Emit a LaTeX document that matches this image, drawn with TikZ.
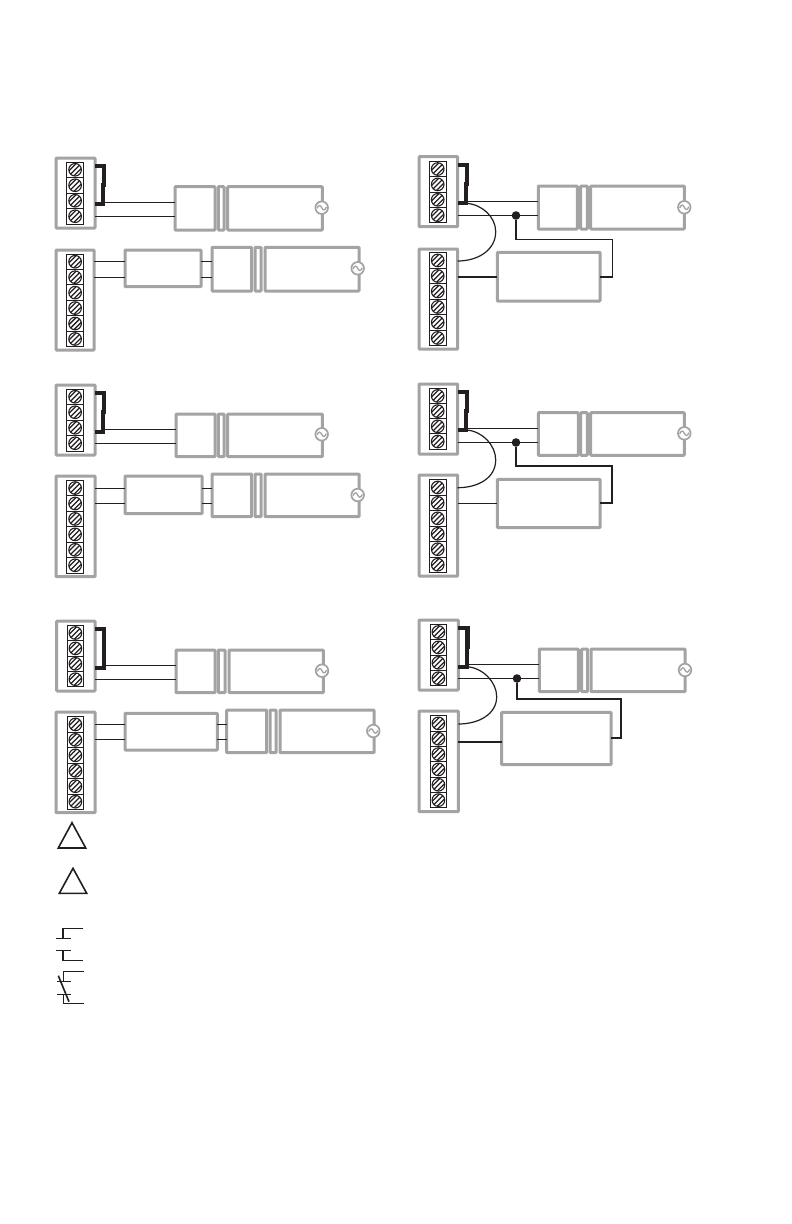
\documentclass[tikz,border=0pt]{standalone}
\definecolor{gbar}{HTML}{A3A3A3}
\definecolor{inkk}{HTML}{231F20}
\tikzset{
  gbox/.style={draw=gbar,line width=3pt,rounded corners=0.8pt,inner sep=0pt,outer sep=0pt,fill=none},
  cellbox/.style={draw=inkk,line width=0.9pt,inner sep=0pt,outer sep=0pt},
  screw/.style={circle,draw=inkk,line width=1.1pt,inner sep=0pt,outer sep=0pt,minimum size=12.6pt,
    path picture={\foreach \d in {-2.5,0,2.5}{
      \draw[inkk,line width=1.25pt] ([xshift={(\d-9)*1pt},yshift={(-\d-9)*1pt}]path picture bounding box.center)
        -- ([xshift={(\d+9)*1pt},yshift={(-\d+9)*1pt}]path picture bounding box.center);}}},
  wire/.style={draw=inkk,line width=1.2pt},
  wirethick/.style={draw=inkk,line width=2pt},
  jumper/.style={draw=inkk,line width=4.2pt,line join=miter},
  junction/.style={circle,fill=inkk,inner sep=0pt,minimum size=8.6pt},
  acring/.style={circle,draw=gbar,fill=white,line width=1.7pt,inner sep=0pt,minimum size=12.6pt},
  sym/.style={draw=inkk,line width=1.6pt,line join=miter}
}
% name, x1, y1, x2, y2
\newcommand{\GB}[5]{%
  \pgfmathsetmacro\gw{#4-#2}\pgfmathsetmacro\gh{#5-#3}%
  \pgfmathsetmacro\gx{(#2+#4)/2}\pgfmathsetmacro\gy{(#3+#5)/2}%
  \node[gbox,minimum width=\gw pt,minimum height=\gh pt] (#1) at (\gx,\gy) {};}
% AC symbol: name, x, y
\newcommand{\ACS}[3]{%
  \node[acring] (#1) at (#2,#3) {};
  \draw[gbar,line width=1.3pt] ([xshift=-4.6pt,yshift=-0.6pt]#1.center) .. controls ([xshift=-3pt,yshift=3.4pt]#1.center) and ([xshift=-1.2pt,yshift=2.6pt]#1.center) .. (#1.center) .. controls ([xshift=1.2pt,yshift=-2.6pt]#1.center) and ([xshift=3pt,yshift=-3.4pt]#1.center) .. ([xshift=4.6pt,yshift=0.6pt]#1.center);}
% terminal strip: name, x1, y1, x2, y2, stripLeft, stripTop, cells, cellHeight
\newcommand{\TS}[9]{%
  \GB{#1}{#2}{#3}{#4}{#5}%
  \foreach \i in {1,...,#8}{%
    \pgfmathsetmacro\cx{#6+8.4}\pgfmathsetmacro\cy{#7+(\i-0.5)*#9}%
    \node[cellbox,minimum width=16.8pt,minimum height=#9 pt] (#1-c\i) at (\cx,\cy) {};
    \node[screw] (#1-s\i) at (\cx,\cy) {};
  }}
% jumper: terminal name, coordinate prefix, x, y-top, y-bottom
\newcommand{\JP}[5]{%
  \pgfmathsetmacro\jm{(#4+#5)/2}\pgfmathsetmacro\jl{#3-0.6}%
  \pgfmathsetmacro\jma{\jm+2}\pgfmathsetmacro\jmb{\jm-2}%
  \coordinate (#21) at (#3,#4); \coordinate (#2m) at (#3,\jma);
  \coordinate (#2n) at (\jl,\jmb); \coordinate (#22) at (\jl,#5);
  \draw[jumper] (#1.east |- #21) -- (#21) -- (#2m);
  \draw[jumper] (#2n) -- (#22) -- (#1.east |- #22);}
\begin{document}
\begin{tikzpicture}[x=1pt,y=-1pt]
\useasboundingbox (0,0) rectangle (792,1224);
\fill[white] (0,0) rectangle (792,1224);

%% ---------- left column, row 1
\TS{at}{56}{158}{95}{228}{66.7}{162}{4}{15.5}
\GB{ab}{175}{186.7}{215}{230}
\GB{ac}{218.3}{186.7}{224}{230}
\GB{ad}{227.7}{186.7}{322.3}{230}
\ACS{ae}{321.7}{207.7}
\TS{bt}{56}{250}{94}{350}{66.7}{254}{6}{15.45}
\GB{bm}{125}{250}{201}{286.7}
\GB{bb}{212}{247.3}{251.7}{291}
\GB{bc}{255}{247.3}{261}{291}
\GB{bd}{265}{247.3}{359}{291}
\ACS{be}{357.7}{268.3}
\JP{at}{aj}{103.6}{166}{204}
\coordinate (aw1) at (0,202.5); \coordinate (aw2) at (0,216.5);
\coordinate (bw1) at (0,261.5); \coordinate (bw2) at (0,277.5);
\draw[wire] (aj2 |- aw1) -- (ab.west |- aw1);
\draw[wire] (at.east |- aw2) -- (ab.west |- aw2);
\draw[wire] (bt.east |- bw1) -- (bm.west |- bw1);
\draw[wire] (bt.east |- bw2) -- (bm.west |- bw2);
\draw[wire] (bm.east |- bw1) -- (bb.west |- bw1);
\draw[wire] (bm.east |- bw2) -- (bb.west |- bw2);

%% ---------- left column, row 2
\TS{ct}{56}{385}{95}{455}{66.7}{389}{4}{15.5}
\GB{cb}{176}{414}{215}{456.7}
\GB{cc}{218.3}{414}{224}{456.7}
\GB{cd}{227.7}{414}{322.3}{456.7}
\ACS{ce}{321.7}{434.3}
\TS{dt}{56}{476}{95}{576.7}{66.7}{480.3}{6}{15.45}
\GB{dm}{125}{476}{202}{513.7}
\GB{db}{212}{474}{251.7}{516.7}
\GB{dc}{255}{474}{261}{516.7}
\GB{dd}{265}{474}{359}{516.7}
\ACS{de}{357.7}{495}
\JP{ct}{cj}{103.6}{392.7}{431.7}
\coordinate (cw1) at (0,429.5); \coordinate (cw2) at (0,443.5);
\coordinate (dw1) at (0,488.5); \coordinate (dw2) at (0,503.5);
\draw[wire] (cj2 |- cw1) -- (cb.west |- cw1);
\draw[wire] (ct.east |- cw2) -- (cb.west |- cw2);
\draw[wire] (dt.east |- dw1) -- (dm.west |- dw1);
\draw[wire] (dt.east |- dw2) -- (dm.west |- dw2);
\draw[wire] (dm.east |- dw1) -- (db.west |- dw1);
\draw[wire] (dm.east |- dw2) -- (db.west |- dw2);

%% ---------- left column, row 3
\TS{et}{56.7}{621}{95}{691}{67}{625.3}{4}{15.4}
\GB{eb}{176}{650}{215}{692.7}
\GB{ec}{218.3}{650}{225}{692.7}
\GB{ed}{229}{650}{323.3}{692.7}
\ACS{ee}{322}{670.7}
\TS{ft}{56}{712}{95}{812.7}{67}{716.7}{6}{15.45}
\GB{fm}{125}{713.3}{217.3}{750}
\GB{fb}{226.7}{710}{266.7}{752.7}
\GB{fc}{270}{710}{276}{752.7}
\GB{fd}{280}{710}{374}{752.7}
\ACS{fe}{373.3}{731}
\JP{et}{ej}{104.2}{629}{667.7}
\coordinate (ew1) at (0,665.5); \coordinate (ew2) at (0,679.5);
\coordinate (fw1) at (0,724.5); \coordinate (fw2) at (0,739.5);
\draw[wire] (ej2 |- ew1) -- (eb.west |- ew1);
\draw[wire] (et.east |- ew2) -- (eb.west |- ew2);
\draw[wire] (ft.east |- fw1) -- (fm.west |- fw1);
\draw[wire] (ft.east |- fw2) -- (fm.west |- fw2);
\draw[wire] (fm.east |- fw1) -- (fb.west |- fw1);
\draw[wire] (fm.east |- fw2) -- (fb.west |- fw2);

%% ---------- right column, row 1
\TS{gt}{419}{156.7}{457.7}{226.7}{429.3}{161.3}{4}{15.4}
\GB{gb}{538.3}{186}{577.3}{229}
\GB{gc}{580.7}{186}{587.3}{229}
\GB{gd}{590.7}{186}{684.3}{229}
\ACS{ge}{684.3}{207.3}
\TS{ht}{419}{249}{457.7}{349}{429.3}{252.7}{6}{15.5}
\GB{hm}{497.3}{252.3}{600}{301}
\JP{gt}{gj}{466.8}{165}{203.3}
\coordinate (gw1) at (0,201.5); \coordinate (gw2) at (0,215.5);
\coordinate (gr) at (612.5,239.5); \coordinate (gh) at (0,277);
\coordinate (gk) at (495.7,231.7); \coordinate (gq) at (0,261);
\node[junction] (gn) at (516,215.5) {};
\draw[wire] (gj2 |- gw1) -- (gb.west |- gw1);
\draw[wire] (gt.east |- gw2) -- (gb.west |- gw2);
\draw[wire] (gj2) .. controls ++(16,1) and (495.7,217) .. (gk) .. controls (495.7,250) and (478,261) .. (ht.east |- gq);
\draw[wirethick] (ht.east |- gh) -- (hm.west |- gh);
\draw[wire] (gn) |- (gr) |- (hm.east |- gh);

%% ---------- right column, row 2
\TS{it}{419}{384}{457.7}{454}{429.3}{388.3}{4}{15.2}
\GB{ib}{538.3}{412.7}{578.3}{455.3}
\GB{ic}{580.7}{412.7}{587.3}{455.3}
\GB{id}{590.7}{412.7}{684.3}{455.3}
\ACS{ie}{684.3}{433.3}
\TS{jt}{419}{475}{457.7}{576}{429.3}{479.7}{6}{15.45}
\GB{jm}{497.3}{479.3}{600}{527.7}
\JP{it}{ij}{466.8}{391.7}{430}
\coordinate (iw1) at (0,428.5); \coordinate (iw2) at (0,442.5);
\coordinate (ir) at (612.3,465.7); \coordinate (ih) at (0,503);
\coordinate (iht) at (0,503.5);
\coordinate (ik) at (495.7,460); \coordinate (iq) at (0,487.7);
\node[junction] (in) at (516,442.5) {};
\draw[wire] (ij2 |- iw1) -- (ib.west |- iw1);
\draw[wire] (it.east |- iw2) -- (ib.west |- iw2);
\draw[wire] (ij2) .. controls ++(16,1) and (495.7,445) .. (ik) .. controls (495.7,478) and (478,487.7) .. (jt.east |- iq);
\draw[wire] (jt.east |- iht) -- (jm.west |- iht);
\draw[wirethick] (in) |- (ir) |- (jm.east |- ih);

%% ---------- right column, row 3
\TS{kt}{419}{620}{458.3}{690}{430}{624.3}{4}{15.4}
\GB{kb}{539.3}{649}{578.3}{691.7}
\GB{kc}{581.7}{649}{587.7}{691.7}
\GB{kd}{591}{649}{685}{691.7}
\ACS{ke}{685}{670}
\TS{lt}{419}{711}{458.3}{811.7}{430}{715.7}{6}{15.35}
\GB{lm}{501.7}{712.3}{611}{764.7}
\JP{kt}{kj}{467.4}{627.7}{666.7}
\coordinate (kw1) at (0,664.5); \coordinate (kw2) at (0,678.5);
\coordinate (kr) at (621,699); \coordinate (kh) at (0,738); \coordinate (kh2) at (0,741.7);
\coordinate (kk) at (496.7,696.7); \coordinate (kq) at (0,724);
\node[junction] (kn) at (517,678.5) {};
\draw[wire] (kj2 |- kw1) -- (kb.west |- kw1);
\draw[wire] (kt.east |- kw2) -- (kb.west |- kw2);
\draw[wire] (kj2) .. controls ++(16,1) and (496.7,682) .. (kk) .. controls (496.7,714) and (479,724) .. (lt.east |- kq);
\draw[wirethick] (lt.east |- kh2) -- (lm.west |- kh2);
\draw[wirethick] (kn) |- (kr) |- (lm.east |- kh);

%% ---------- legend symbols
\draw[sym] (72,822.7) -- (85.7,848) -- (58.3,848) -- cycle;
\draw[sym] (73,868.3) -- (86.7,893.3) -- (59.3,893.3) -- cycle;
\draw[sym] (83.3,928.5) -- (62.7,928.5) -- (62.7,938.5);
\draw[sym] (56,938.5) -- (70.7,938.5);
\draw[sym] (56,950.5) -- (70.7,950.5);
\draw[sym] (62.7,950.5) -- (62.7,960.5) -- (83.3,960.5);
\draw[sym] (83.7,971.5) -- (63.3,971.5) -- (63.3,981.5);
\draw[sym] (57.3,981.5) -- (70.7,981.5);
\draw[sym] (57.3,994.5) -- (70.7,994.5);
\draw[sym] (63.3,994.5) -- (63.3,1003.5) -- (84,1003.5);
\draw[sym] (58.3,975.7) -- (69,1001.7);
\end{tikzpicture}
\end{document}
